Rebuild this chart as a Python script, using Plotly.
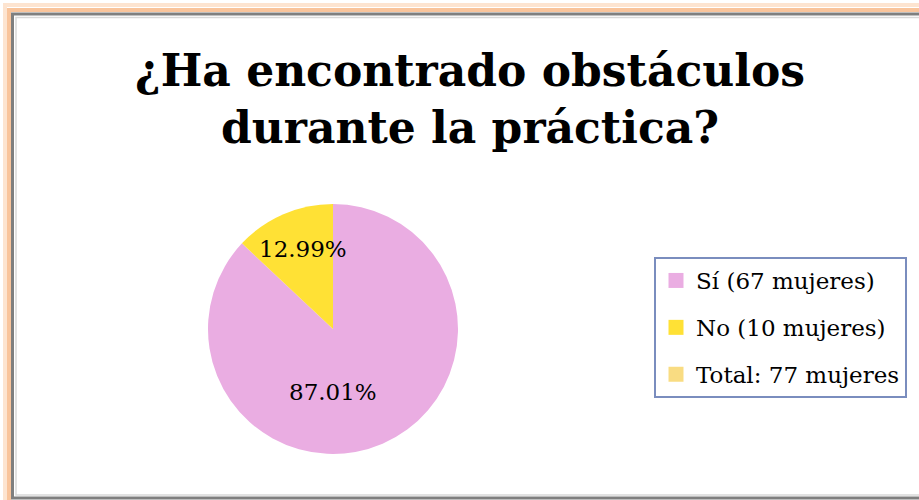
import plotly.graph_objects as go

# slice data
labels = ["Sí (67 mujeres)", "No (10 mujeres)", "Total: 77 mujeres"]
values = [67, 10, 0]
pct_text = ["87.01%", "12.99%", ""]
colors = ["#EAADE2", "#FFE135", "#F9DC82"]

# where the percentage labels sit (pixels)
label_pos = [(333, 392), (303, 249), None]

W, H = 919, 500
SERIF = "DejaVu Serif"


def px_x(x):
    return x / W


def px_y(y):
    return 1 - y / H


fig = go.Figure(go.Pie(
    labels=labels,
    values=values,
    textinfo="none",
    marker=dict(colors=colors, line=dict(width=0)),
    sort=False,
    direction="clockwise",
    rotation=0,
    domain=dict(x=[px_x(208), px_x(458)], y=[px_y(454), px_y(204)]),
    showlegend=False,
))

# legend entries as dummy square markers (so the row spacing can be set)
for i, (lab, col) in enumerate(zip(labels, colors)):
    fig.add_trace(go.Scatter(
        x=[None], y=[None], mode="markers", name=lab,
        marker=dict(symbol="square", size=15, color=col),
        legendgroup=f"g{i}", showlegend=True,
    ))

for txt, pos in zip(pct_text, label_pos):
    if pos is None:
        continue
    fig.add_annotation(
        x=px_x(pos[0]), y=px_y(pos[1]), xref="paper", yref="paper",
        xanchor="center", yanchor="middle",
        text=txt, showarrow=False,
        font=dict(family=SERIF, size=23, color="black"),
    )

shapes = [
    # orange glow
    dict(type="rect", xref="paper", yref="paper",
         x0=px_x(5), y0=px_y(5), x1=px_x(940), y1=px_y(520),
         line=dict(color="#FDE4D0", width=4)),
    dict(type="rect", xref="paper", yref="paper",
         x0=px_x(9), y0=px_y(10), x1=px_x(940), y1=px_y(520),
         line=dict(color="#F9C49B", width=4)),
    # gray frame
    dict(type="rect", xref="paper", yref="paper",
         x0=px_x(12.5), y0=px_y(14), x1=px_x(940), y1=px_y(498),
         line=dict(color="#7F7F7F", width=3)),
    dict(type="rect", xref="paper", yref="paper",
         x0=px_x(16), y0=px_y(17.5), x1=px_x(940), y1=px_y(495),
         line=dict(color="#D9D9D9", width=1.5)),
]

fig.update_layout(
    width=W, height=H,
    margin=dict(l=0, r=0, t=0, b=0),
    paper_bgcolor="white",
    plot_bgcolor="white",
    xaxis=dict(visible=False),
    yaxis=dict(visible=False),
    shapes=shapes,
    title=dict(
        text="<b>¿Ha encontrado obstáculos<br>durante la práctica?</b>",
        font=dict(family=SERIF, size=44, color="black"),
        x=px_x(470), xanchor="center",
        y=px_y(86), yanchor="top",
    ),
    legend=dict(
        x=px_x(654), y=px_y(257), xanchor="left", yanchor="top",
        bordercolor="#7A8DBE", borderwidth=2,
        font=dict(family=SERIF, size=23, color="black"),
        bgcolor="white",
        tracegroupgap=14,
        itemclick=False,
    ),
    showlegend=True,
)

fig.write_html("out.html", config={"displayModeBar": False},
               post_script="document.body.style.margin='0';")
